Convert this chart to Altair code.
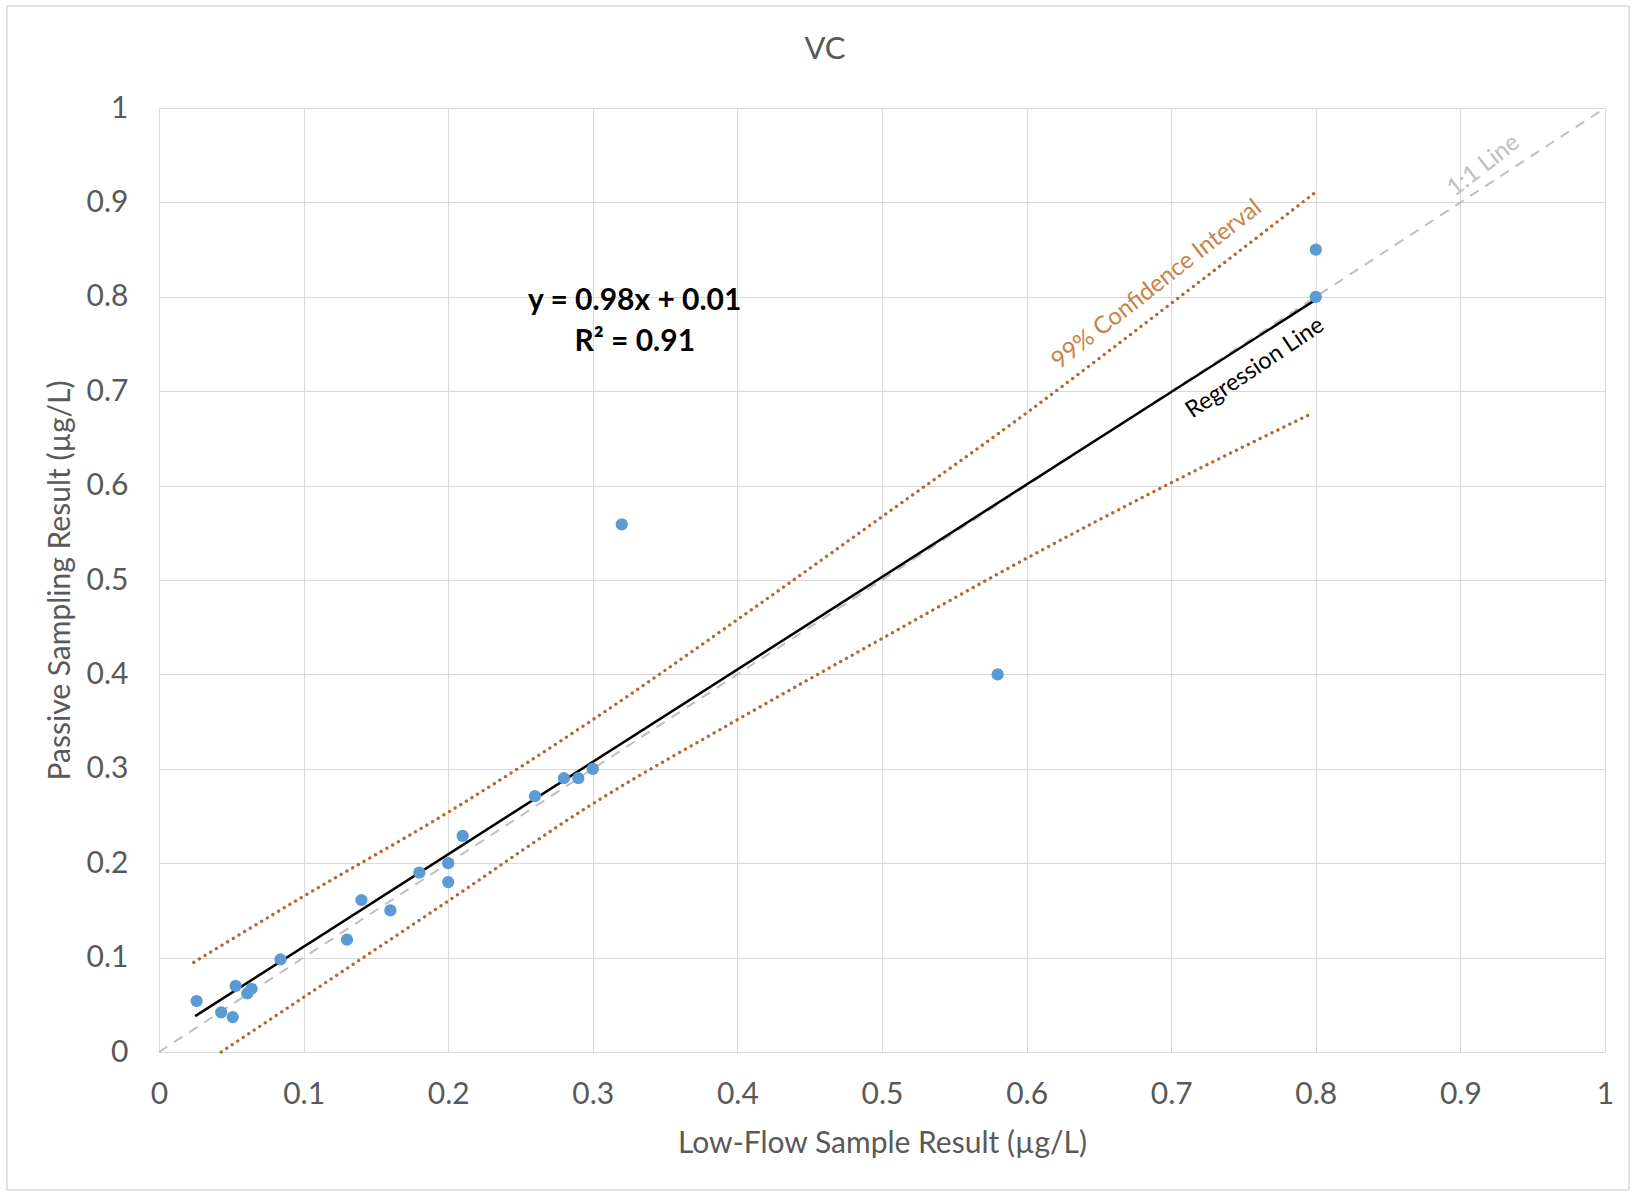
import altair as alt
import pandas as pd

# ---- data ----
pt_x = [0.026, 0.043, 0.051, 0.053, 0.061, 0.064, 0.084, 0.13, 0.14, 0.16, 0.18, 0.20, 0.20, 0.21,
        0.26, 0.28, 0.29, 0.30, 0.32, 0.58, 0.80, 0.80]
pt_y = [0.054, 0.042, 0.037, 0.070, 0.062, 0.067, 0.098, 0.119, 0.161, 0.150, 0.190, 0.200, 0.180, 0.229,
        0.271, 0.290, 0.290, 0.300, 0.559, 0.400, 0.850, 0.800]

reg_x = [0.025, 0.80]
reg_y = [0.038, 0.797]

ci_up_x = [0.024, 0.1, 0.2, 0.3, 0.4, 0.5, 0.6, 0.7, 0.8]
ci_up_y = [0.095, 0.165, 0.254, 0.352, 0.458, 0.567, 0.677, 0.793, 0.911]
ci_lo_x = [0.043, 0.1, 0.2, 0.3, 0.4, 0.5, 0.6, 0.7, 0.798]
ci_lo_y = [0.0, 0.058, 0.160, 0.263, 0.352, 0.438, 0.523, 0.603, 0.677]

one_x = [0.0, 1.0]
one_y = [0.0, 1.0]

ticks = [0, 0.1, 0.2, 0.3, 0.4, 0.5, 0.6, 0.7, 0.8, 0.9, 1]

FONT = "Lato"
GREY = "#595959"
W, H = 1446, 944

xs = alt.Scale(domain=[0, 1], nice=False)
ys = alt.Scale(domain=[0, 1], nice=False)

x_axis = alt.Axis(values=ticks, format="~g", title="Low-Flow Sample Result (µg/L)",
                  labelPadding=27, labelFlush=False, titleX=W / 2, titleY=91,
                  titleBaseline="middle", titleAlign="center")
y_axis = alt.Axis(values=ticks, format="~g", title="Passive Sampling Result (µg/L)",
                  labelPadding=31, labelFlush=False, titleX=-99, titleY=H / 2, titleAngle=270,
                  titleBaseline="middle", titleAlign="center")

pts = pd.DataFrame({"x": pt_x, "y": pt_y})
reg = pd.DataFrame({"x": reg_x, "y": reg_y})
up = pd.DataFrame({"x": ci_up_x, "y": ci_up_y})
lo = pd.DataFrame({"x": ci_lo_x, "y": ci_lo_y})
one = pd.DataFrame({"x": one_x, "y": one_y})

base_enc = dict(x=alt.X("x:Q", scale=xs, axis=x_axis), y=alt.Y("y:Q", scale=ys, axis=y_axis))

one_line = alt.Chart(one).mark_line(color="#BFBFBF", strokeWidth=2, strokeDash=[10, 8]).encode(**base_enc)
ci_color = "#B8652E"
up_line = alt.Chart(up).mark_line(color=ci_color, strokeWidth=3.3, strokeDash=[0.1, 6.5],
                                  strokeCap="round", interpolate="monotone").encode(**base_enc)
lo_line = alt.Chart(lo).mark_line(color=ci_color, strokeWidth=3.3, strokeDash=[0.1, 6.5],
                                  strokeCap="round", interpolate="monotone").encode(**base_enc)
reg_line = alt.Chart(reg).mark_line(color="black", strokeWidth=2.5).encode(**base_enc)
points = alt.Chart(pts).mark_circle(color="#5B9BD5", opacity=1, size=150).encode(**base_enc)


def label(txt, x, y, angle, color, size, weight="normal"):
    d = pd.DataFrame({"x": [x], "y": [y], "t": [txt]})
    return alt.Chart(d).mark_text(angle=angle, color=color, fontSize=size, font=FONT,
                                  fontWeight=weight, align="center", baseline="middle").encode(
        x=alt.X("x:Q", scale=xs), y=alt.Y("y:Q", scale=ys), text="t:N")


eq1 = label("y = 0.98x + 0.01", 0.329, 0.796, 0, "black", 30, "bold")
eq2 = label("R² = 0.91", 0.329, 0.752, 0, "black", 30, "bold")
ci_lab = label("99% Confidence Interval", 0.690, 0.813, 322, "#C8834A", 24)
reg_lab = label("Regression Line", 0.758, 0.7245, 326, "black", 23.5)
one_lab = label("1:1 Line", 0.916, 0.939, 322, "#BFBFBF", 24)

title_txt = alt.Chart(pd.DataFrame({"t": ["VC"]})).mark_text(
    font=FONT, fontSize=31, color=GREY, align="center", baseline="middle", clip=False).encode(
    x=alt.value(825 - 159), y=alt.value(50 - 108), text="t:N")

border = alt.Chart(pd.DataFrame({"a": [0]})).mark_rect(
    fillOpacity=0, stroke="#D9D9D9", strokeWidth=1.5, clip=False).encode(
    x=alt.value(7 - 159), x2=alt.value(1629 - 159), y=alt.value(6 - 108), y2=alt.value(1190 - 108))

chart = alt.layer(border, one_line, up_line, lo_line, reg_line, points,
                  eq1, eq2, ci_lab, reg_lab, one_lab, title_txt).properties(
    width=W, height=H,
    background="white",
    autosize=alt.AutoSizeParams(type="none"),
    padding={"left": 159, "top": 108, "right": 32, "bottom": 141},
).configure_view(stroke=None).configure_axis(
    grid=True, gridColor="#D9D9D9", gridWidth=1, domain=False, ticks=False, tickSize=0,
    labelFont=FONT, labelFontSize=30, labelColor=GREY,
    titleFont=FONT, titleFontSize=30, titleColor=GREY, titleFontWeight="normal",
)

chart.save("out.html", embed_options={"renderer": "svg", "actions": False})
